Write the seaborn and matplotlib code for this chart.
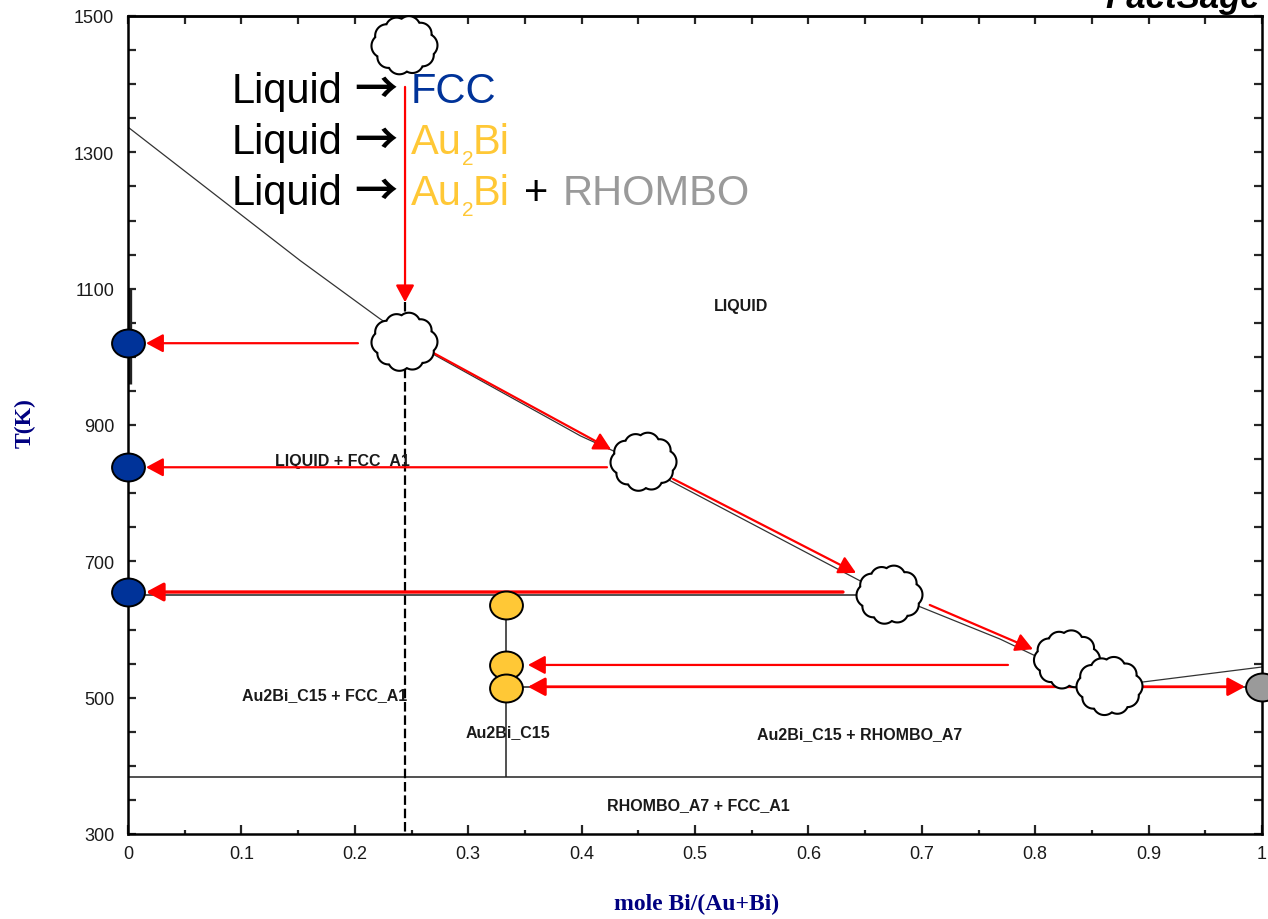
import numpy as np
import pandas as pd
import matplotlib
matplotlib.use("Agg")
import matplotlib.pyplot as plt
import seaborn as sns
from matplotlib.path import Path
from matplotlib.patches import Polygon
from matplotlib.transforms import Affine2D, ScaledTranslation, IdentityTransform
from matplotlib.ticker import FixedLocator, FixedFormatter, MultipleLocator

# ---------------- data ----------------
# liquidus of the Au-Bi system
liq_x = [0.0, 0.152, 0.222, 0.269, 0.372, 0.399, 0.428, 0.475, 0.646, 0.696,
         0.769, 0.798, 0.858, 0.895, 1.0]
liq_T = [1337, 1141, 1056, 1004, 909, 884, 862, 821, 671, 635,
         586, 563, 516, 523, 545]

# invariant / phase-boundary lines
fcc_solidus_x = [0.0015, 0.0015]
fcc_solidus_T = [1100, 960]
peritectic_x = [0.0, 0.673]
peritectic_T = [651, 651]
eutectic_x = [0.3333, 1.0]
eutectic_T = [515, 515]
au2bi_x = [0.3333, 0.3333]
au2bi_T = [651, 384]
decomp_x = [0.0, 1.0]
decomp_T = [384, 384]

# chosen alloy composition (dashed isopleth)
alloy_x = 0.2443
alloy_T = [1080, 300]

# phase-field labels
region_labels = ["LIQUID", "LIQUID + FCC_A1", "Au2Bi_C15 + FCC_A1", "Au2Bi_C15",
                 "Au2Bi_C15 + RHOMBO_A7", "RHOMBO_A7 + FCC_A1"]
region_x = [0.541, 0.189, 0.173, 0.335, 0.6455, 0.5026]
region_T = [1076, 848, 505, 451, 448, 343]

# solid phase compositions during cooling
fcc_pts_x = [0.0, 0.0, 0.0]
fcc_pts_T = [1021, 838, 655]
au2bi_pts_x = [0.3333, 0.3333, 0.3333]
au2bi_pts_T = [636, 548, 514]
rhombo_pts_x = [1.0]
rhombo_pts_T = [516]

# liquid composition path (clouds)
cloud_x = [0.2438, 0.2438, 0.4546, 0.6715, 0.828, 0.8655]
cloud_T = [1457, 1022, 846, 651, 556, 517]

# red arrows: (x_start, T_start, x_end, T_end)
arrow_x0 = [0.2443, 0.2028, 0.269, 0.4224, 0.4806, 0.6305, 0.707, 0.776]
arrow_T0 = [1396, 1020, 1006, 838, 821, 655, 636, 548]
arrow_x1 = [0.2443, 0.0159, 0.426, 0.0159, 0.642, 0.0159, 0.798, 0.3527]
arrow_T1 = [1080, 1020, 864, 838, 683, 655, 571, 548]
arrow_lw = [1.6, 1.6, 1.6, 1.6, 1.6, 2.4, 1.6, 1.6]
# two-headed arrow on the eutectic
dbl_x = [0.3527, 0.985]
dbl_T = [516, 516]

# axis ticks
x_major = [0.0, 0.1, 0.2, 0.3, 0.4, 0.5, 0.6, 0.7, 0.8, 0.9, 1.0]
x_labels = ["0", "0.1", "0.2", "0.3", "0.4", "0.5", "0.6", "0.7", "0.8", "0.9", "1"]
y_major = [300, 500, 700, 900, 1100, 1300, 1500]
y_labels = ["300", "500", "700", "900", "1100", "1300", "1500"]

# ---------------- styling ----------------
sns.set_theme(style="ticks")
plt.rcParams["font.family"] = ["Liberation Sans", "DejaVu Sans"]

NAVY = "#003399"
GOLD = "#FFC836"
GREY = "#9A9A9A"
TXT = "#1a1a1a"

W, H = 1268, 920
fig = plt.figure(figsize=(W / 100, H / 100), dpi=100)
fig.patch.set_facecolor("white")
ax = fig.add_axes([128 / W, 1 - 835 / H, (1262 - 128) / W, (835 - 17) / H])
ax.set_facecolor("white")
ax.set_xlim(0, 1)
ax.set_ylim(300, 1500)

# phase boundaries
liq_df = pd.DataFrame({"x": liq_x, "T": liq_T})
sns.lineplot(data=liq_df, x="x", y="T", sort=False, color="#333333", lw=0.9, ax=ax, zorder=2)
for xs, ts, lw in [(fcc_solidus_x, fcc_solidus_T, 2.4), (peritectic_x, peritectic_T, 1.1),
                   (eutectic_x, eutectic_T, 1.1), (au2bi_x, au2bi_T, 1.1),
                   (decomp_x, decomp_T, 1.1)]:
    ax.plot(xs, ts, color="#222222", lw=lw, zorder=2, solid_capstyle="butt")

# dashed isopleth
ax.plot([alloy_x, alloy_x], alloy_T, color="black", lw=1.6, ls=(0, (4.3, 1.7)), zorder=3,
        clip_on=False)

# region labels
for s, x, t in zip(region_labels, region_x, region_T):
    ax.text(x, t, s, ha="center", va="center", fontsize=11.5, fontweight="bold", color=TXT,
            zorder=3)

# red arrows
for x0, t0, x1, t1, lw in zip(arrow_x0, arrow_T0, arrow_x1, arrow_T1, arrow_lw):
    ax.annotate("", xy=(x1, t1), xytext=(x0, t0),
                arrowprops=dict(arrowstyle="-|>,head_length=0.52,head_width=0.28",
                                mutation_scale=20, color="#FF0000", lw=lw,
                                shrinkA=0, shrinkB=0), zorder=4)
ax.annotate("", xy=(dbl_x[1], dbl_T[1]), xytext=(dbl_x[0], dbl_T[0]),
            arrowprops=dict(arrowstyle="<|-|>,head_length=0.52,head_width=0.28",
                            mutation_scale=20, color="#FF0000", lw=2.0,
                            shrinkA=0, shrinkB=0), zorder=4)

# clouds along the liquid path
def cloud_outline(a=21.0, b=18.0, n=720):
    ang = np.deg2rad([0, 40, 78, 112, 148, 182, 220, 256, 292, 328])
    rad = np.array([12.0, 11.0, 11.5, 11.0, 11.5, 12.0, 11.0, 11.5, 11.0, 11.5])
    cx = a * np.cos(ang)
    cy = b * np.sin(ang)
    phi = np.linspace(0, 2 * np.pi, n, endpoint=False)
    ux, uy = np.cos(phi), np.sin(phi)
    best = np.zeros(n)
    for px, py, r in zip(cx, cy, rad):
        d = ux * px + uy * py
        disc = d ** 2 - (px ** 2 + py ** 2) + r ** 2
        t = np.where(disc >= 0, d + np.sqrt(np.clip(disc, 0, None)), 0)
        best = np.maximum(best, t)
    return np.column_stack([best * ux, best * uy])

outline = cloud_outline()
for x, t in zip(cloud_x, cloud_T):
    tr = Affine2D() + ScaledTranslation(x, t, ax.transData)
    ax.add_patch(Polygon(outline, closed=True, facecolor="white", edgecolor="black",
                         lw=1.5, transform=tr, zorder=5, clip_on=False))

# phase markers (slightly oval)
circ = Path.unit_circle()
oval = Path(circ.vertices * np.array([1.0, 0.85]), circ.codes)
for xs, ts, col in [(fcc_pts_x, fcc_pts_T, NAVY), (au2bi_pts_x, au2bi_pts_T, GOLD),
                    (rhombo_pts_x, rhombo_pts_T, GREY)]:
    sns.scatterplot(x=xs, y=ts, marker=oval, s=560, color=col, edgecolor="black",
                    linewidth=1.4, ax=ax, zorder=6, clip_on=False, legend=False)

# axes, ticks
for sp in ax.spines.values():
    sp.set_linewidth(1.8)
    sp.set_color("black")
ax.xaxis.set_major_locator(FixedLocator(x_major))
ax.xaxis.set_major_formatter(FixedFormatter(x_labels))
ax.xaxis.set_minor_locator(MultipleLocator(0.05))
ax.yaxis.set_major_locator(FixedLocator(y_major))
ax.yaxis.set_major_formatter(FixedFormatter(y_labels))
ax.yaxis.set_minor_locator(MultipleLocator(50))
ax.tick_params(axis="x", which="major", direction="in", length=6.5, width=1.6,
               labelsize=13, labelcolor=TXT, pad=8, top=False)
ax.tick_params(axis="x", which="minor", direction="in", length=3, width=1.6, top=False)
ax.tick_params(axis="y", which="both", direction="in", length=5.5, width=1.6,
               right=True, labelsize=13, labelcolor=TXT, pad=10)

top = ax.secondary_xaxis("top")
top.xaxis.set_major_locator(MultipleLocator(0.05))
top.tick_params(direction="in", length=6, width=1.6, labeltop=False)
top.spines["top"].set_linewidth(1.8)

ax.set_xlabel("mole Bi/(Au+Bi)", family="Liberation Serif", fontweight="bold",
              fontsize=17, color="#000080", va="center")
ax.xaxis.set_label_coords(0.5018, -(904 - 835) / 818)
ax.set_ylabel("T(K)", family="Liberation Serif", fontweight="bold",
              fontsize=17, color="#000080", va="center")
ax.yaxis.set_label_coords((25 - 128) / 1134, (835 - 423) / 818)

fig.text(1260 / W, 1 - 8 / H, "FactSage", ha="right", va="baseline", fontsize=25,
         fontweight="bold", fontstyle="italic", color="black")

# cooling-sequence legend text, written piece by piece in colour
fig.canvas.draw()
renderer = fig.canvas.get_renderer()
big = 30
ARW = ("\u2192", "black", 31, 0, 13, "Noto Sans CJK SC", "bold")
lines = [
    [("Liquid", "black", big, 0, 12, "Liberation Sans", "normal"), ARW,
     ("FCC", NAVY, big, 0, 0, "Liberation Sans", "normal")],
    [("Liquid", "black", big, 0, 12, "Liberation Sans", "normal"), ARW,
     ("Au", GOLD, big, 0, 0, "Liberation Sans", "normal"),
     ("2", GOLD, 15, 11, 0, "Liberation Sans", "normal"),
     ("Bi", GOLD, big, 0, 0, "Liberation Sans", "normal")],
    [("Liquid", "black", big, 0, 12, "Liberation Sans", "normal"), ARW,
     ("Au", GOLD, big, 0, 0, "Liberation Sans", "normal"),
     ("2", GOLD, 15, 11, 0, "Liberation Sans", "normal"),
     ("Bi", GOLD, big, 0, 14, "Liberation Sans", "normal"),
     ("+", "black", big, 0, 14, "Liberation Sans", "normal"),
     ("RHOMBO", GREY, big, 0, 0, "Liberation Sans", "normal")],
]
line_T = [1374, 1299, 1224]
for pieces, t in zip(lines, line_T):
    X, Y = ax.transData.transform((0.0917, t))
    for s, col, fs, dy, gap, fam, wt in pieces:
        txt = fig.text(X, Y - dy, s, transform=IdentityTransform(), ha="left", va="baseline",
                       fontsize=fs, color=col, zorder=7, fontweight=wt,
                       family=[fam, "DejaVu Sans"])
        bb = txt.get_window_extent(renderer)
        X = bb.x1 + gap

fig.savefig("out.png", dpi=100, facecolor="white")
